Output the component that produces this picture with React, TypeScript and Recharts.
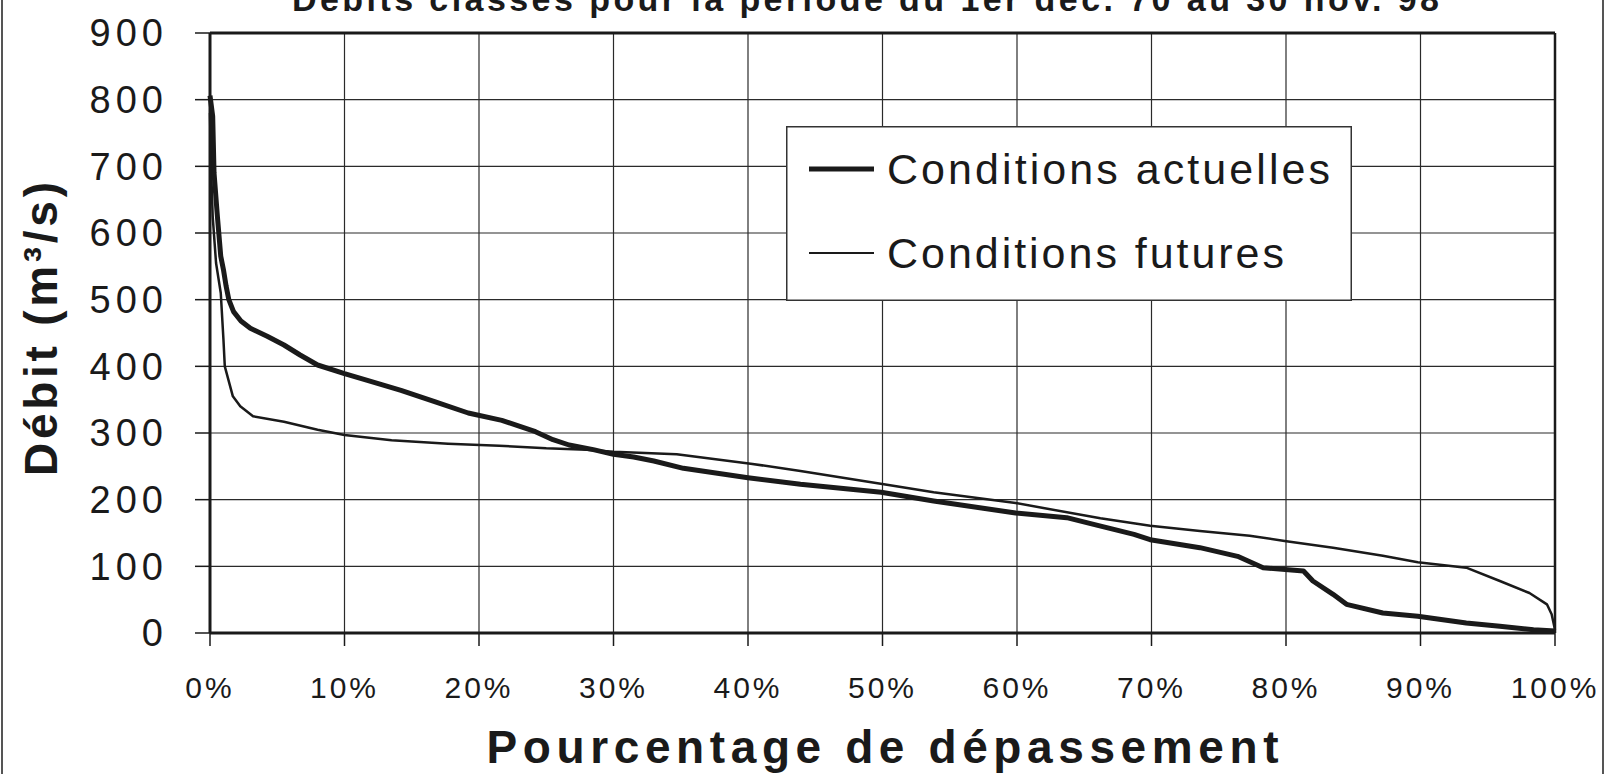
import React from 'react';
import { LineChart, Line, XAxis, YAxis, CartesianGrid, ReferenceLine, Legend } from 'recharts';

const FONT = '"Liberation Sans", Arial, Helvetica, sans-serif';
const INK = '#1a1a1a';

const TITLE = 'Débits classés pour la période du 1er déc. 70 au 30 nov. 98';
const X_TITLE = 'Pourcentage de dépassement';
const Y_TITLE = 'Débit (m³/s)';
const SERIES_NAMES = ['Conditions actuelles', 'Conditions futures'];

const xTicks = [0, 10, 20, 30, 40, 50, 60, 70, 80, 90, 100];
const yTicks = [0, 100, 200, 300, 400, 500, 600, 700, 800, 900];

// Conditions actuelles (thick line)
const actualPct = [0, 0.2, 0.3, 0.55, 0.8, 1.0, 1.2, 1.4, 1.75, 2.3, 3.0, 4.25, 5.5, 6.7, 8.0, 10, 11.7, 14.2, 16.7, 19.2, 21.7, 24.2, 25.5, 26.7, 28.5, 30, 31.5, 33, 35.2, 40, 43.9, 49.9, 53.8, 59.9, 63.7, 65.7, 68.7, 69.9, 73.6, 76.4, 78.3, 81.3, 82, 83.5, 84.5, 87.2, 89.8, 93.4, 95.9, 98.4, 100];
const actualFlow = [806, 775, 690, 625, 565, 545, 520, 500, 482, 468, 457, 445, 432, 417, 402, 389, 379, 364, 347, 330, 319, 302, 290, 282, 275, 268, 264, 258, 247, 233, 223, 211, 198, 180, 173, 163, 148, 140, 128, 115, 98, 93, 78, 58, 43, 30, 25, 15, 10, 5, 3];

// Conditions futures (thin line)
const futurePct = [0, 0.07, 0.2, 0.45, 0.8, 1.0, 1.1, 1.7, 2.25, 3.2, 5.5, 8, 10, 13.5, 17.7, 21.5, 25, 28, 30, 34.7, 40.2, 43.9, 50.1, 53.8, 59.9, 66.2, 69.9, 73.6, 77.3, 79.9, 83.5, 87.2, 89.8, 93.4, 95.9, 98.1, 99.4, 99.75, 100];
const futureFlow = [780, 705, 625, 555, 510, 440, 400, 355, 340, 325, 317, 305, 297, 289, 284, 281, 277, 275, 272, 268, 254, 243, 223, 211, 195, 172, 161, 153, 146, 138, 128, 116, 106, 98, 78, 60, 43, 28, 5];

const actualData = actualPct.map((p, i) => ({ pct: p, flow: actualFlow[i] }));
const futureData = futurePct.map((p, i) => ({ pct: p, flow: futureFlow[i] }));

const LEGEND_TEXT_LEN = [443, 397];
const LEGEND_STROKE = [5, 2];

const LegendBox = (props: any) => {
  const payload = props.payload || [];
  return (
    <svg width={566} height={175} style={{ display: 'block' }}>
      <rect x={0.75} y={0.75} width={564.5} height={173.5} fill="#fff" stroke="#333" strokeWidth={1.5} />
      {payload.map((e: any, i: number) => {
        const cy = i === 0 ? 43 : 127;
        return (
          <g key={i}>
            <line x1={23} x2={88} y1={cy} y2={cy} stroke={INK} strokeWidth={LEGEND_STROKE[i]} />
            <text
              x={101}
              y={cy + 15}
              fontSize={43}
              fontFamily={FONT}
              fill={INK}
              textLength={LEGEND_TEXT_LEN[i]}
              lengthAdjust="spacing"
            >
              {e.value}
            </text>
          </g>
        );
      })}
    </svg>
  );
};

const XTitle = (props: any) => {
  const vb = props.viewBox || { x: 210, y: 633, width: 1345, height: 141 };
  const cx = vb.x + vb.width / 2;
  return (
    <text
      x={cx - 396}
      y={vb.y + 130}
      fontSize={46}
      fontWeight="bold"
      fontFamily={FONT}
      fill={INK}
      textLength={792}
      lengthAdjust="spacing"
    >
      {X_TITLE}
    </text>
  );
};

const YTitle = (props: any) => {
  const vb = props.viewBox || { x: 0, y: 33, width: 210, height: 600 };
  const cy = vb.y + vb.height / 2 - 4;
  const bx = 57;
  return (
    <text
      x={bx}
      y={cy + 147}
      transform={`rotate(-90 ${bx} ${cy + 147})`}
      fontSize={46}
      fontWeight="bold"
      fontFamily={FONT}
      fill={INK}
      textLength={294}
      lengthAdjust="spacing"
    >
      {Y_TITLE}
    </text>
  );
};

export default function App() {
  return (
    <div style={{ position: 'absolute', left: 0, top: 0, width: 1606, height: 774, background: '#fff', overflow: 'hidden' }}>
      <LineChart
        width={1606}
        height={774}
        margin={{ top: 33, right: 51, bottom: 0, left: 0 }}
        style={{ fontFamily: FONT }}
      >
        <CartesianGrid stroke="#2a2a2a" strokeWidth={1.2} />
        <XAxis
          type="number"
          dataKey="pct"
          domain={[0, 100]}
          ticks={xTicks}
          interval={0}
          height={141}
          tickSize={13}
          tickMargin={31}
          tickFormatter={(v: number) => `${v}%`}
          axisLine={{ stroke: INK, strokeWidth: 3 }}
          tickLine={{ stroke: INK, strokeWidth: 1.5 }}
          tick={{ fontSize: 30, fill: INK, fontFamily: FONT, style: { letterSpacing: '3px' } }}
          label={<XTitle />}
        />
        <YAxis
          type="number"
          domain={[0, 900]}
          ticks={yTicks}
          interval={0}
          width={210}
          tickSize={15}
          tickMargin={27}
          axisLine={{ stroke: INK, strokeWidth: 3 }}
          tickLine={{ stroke: INK, strokeWidth: 1.5 }}
          tick={{ fontSize: 38, fill: INK, fontFamily: FONT, style: { letterSpacing: '5px' } }}
          label={<YTitle />}
        />
        <ReferenceLine y={900} stroke={INK} strokeWidth={3} />
        <ReferenceLine x={100} stroke={INK} strokeWidth={2.5} />
        <Line
          data={futureData}
          dataKey="flow"
          name={SERIES_NAMES[1]}
          type="linear"
          stroke={INK}
          strokeWidth={2.5}
          dot={false}
          isAnimationActive={false}
          strokeLinejoin="round"
        />
        <Line
          data={actualData}
          dataKey="flow"
          name={SERIES_NAMES[0]}
          type="linear"
          stroke={INK}
          strokeWidth={5}
          dot={false}
          isAnimationActive={false}
          strokeLinejoin="round"
        />
        <Legend
          layout="vertical"
          align="center"
          verticalAlign="middle"
          content={(p: any) => {
            const items = (p.payload || []).slice().sort((a: any, b: any) => SERIES_NAMES.indexOf(a.value) - SERIES_NAMES.indexOf(b.value));
            return <LegendBox payload={items} />;
          }}
          wrapperStyle={{ left: 786, top: 126, width: 566, height: 175 }}
        />
      </LineChart>
      <svg width={1606} height={774} style={{ position: 'absolute', left: 0, top: 0, pointerEvents: 'none' }}>
        <text
          x={292}
          y={11}
          fontSize={34}
          fontWeight="bold"
          fontFamily={FONT}
          fill={INK}
          textLength={1147}
          lengthAdjust="spacing"
        >
          {TITLE}
        </text>
        <line x1={2} x2={2} y1={0} y2={774} stroke="#555" strokeWidth={2} />
        <line x1={1603} x2={1603} y1={0} y2={774} stroke="#555" strokeWidth={2} />
      </svg>
    </div>
  );
}
